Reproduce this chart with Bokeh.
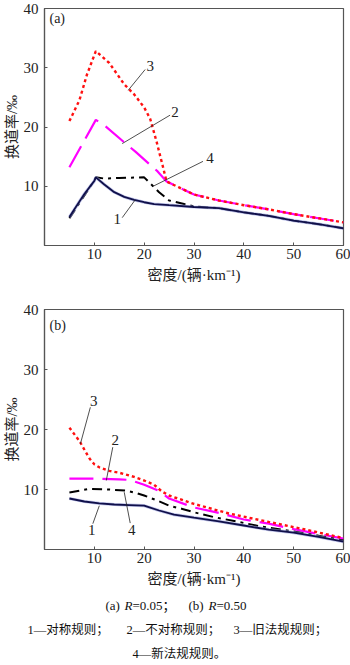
from bokeh.plotting import figure
from bokeh.models import Range1d, FixedTicker, Label
from bokeh.layouts import column
from bokeh.embed import file_html
from bokeh.resources import INLINE
from bokeh.core.properties import value

# ---------------- data ----------------
X_TICKS = [10, 20, 30, 40, 50, 60]
Y_TICKS = [10, 20, 30, 40]
X_LABEL = "密度/(辆·km⁻¹)"
Y_LABEL = "换道率/‰"

# panel (a) R=0.05
a_x1 = [5, 6, 8, 10, 10.3, 12, 14, 16, 18, 20, 22, 25, 30, 35, 40, 45, 50, 55, 60]
a_y1 = [4.8, 6.1, 8.7, 10.9, 11.5, 10.3, 9.0, 8.2, 7.7, 7.3, 7.0, 6.8, 6.5, 6.3, 5.6, 5.0, 4.2, 3.6, 2.9]
a_x2 = [5, 10.3, 12, 16.3, 18.3, 22.7, 24.5, 27, 30, 35, 40, 45, 50, 55, 60]
a_y2 = [13.2, 21.2, 20.3, 17.2, 15.8, 12.5, 10.8, 9.8, 8.6, 7.6, 6.8, 6.1, 5.3, 4.6, 3.9]
a_x3 = [5, 7, 8.5, 10.3, 13, 16, 18, 20, 21.2, 22.5, 24, 24.5, 27, 30, 35, 40, 45, 50, 55, 60]
a_y3 = [21.0, 24.5, 28.8, 32.8, 30.8, 27.2, 25.5, 23.3, 21.4, 17.5, 12.5, 10.8, 9.8, 8.6, 7.6, 6.8, 6.1, 5.3, 4.6, 3.9]
a_x4 = [5, 10, 10.3, 12, 15, 20, 23, 25, 28, 30, 35, 40, 45, 50, 55, 60]
a_y4 = [4.6, 11.0, 11.5, 11.3, 11.4, 11.5, 9.0, 7.6, 7.0, 6.6, 6.3, 5.6, 5.0, 4.2, 3.6, 2.9]

# panel (b) R=0.50
b_x1 = [5, 8, 11, 14, 17, 20, 23, 26, 30, 35, 40, 45, 50, 55, 60]
b_y1 = [8.5, 8.0, 7.7, 7.5, 7.4, 7.3, 6.5, 5.8, 5.3, 4.7, 4.0, 3.3, 2.8, 2.1, 1.3]
b_x2 = [5, 10, 15, 17, 18.5, 20, 22.9, 25, 30, 35, 40, 45, 50, 55, 60]
b_y2 = [11.8, 11.8, 11.7, 11.6, 11.2, 10.8, 9.8, 8.5, 7.0, 6.1, 5.0, 4.3, 3.4, 2.6, 1.8]
b_x3 = [5, 7, 9, 10, 11, 13, 15, 18, 20, 22, 23.5, 25, 30, 37, 45, 52.5, 60]
b_y3 = [20.3, 18.1, 15.2, 14.2, 13.7, 13.1, 12.8, 12.1, 11.5, 10.8, 9.7, 9.0, 7.6, 6.0, 4.6, 3.3, 1.9]
b_x4 = [5, 9, 13, 16.5, 18.5, 20, 22.5, 25, 27.5, 30, 34, 39, 43, 50, 55, 60]
b_y4 = [9.5, 10.1, 10.0, 9.8, 9.4, 9.0, 8.2, 7.3, 6.8, 6.2, 5.4, 4.6, 3.9, 3.0, 2.3, 1.5]

# curve number labels: (text, x, y, leader x0, y0, x1, y1)
a_notes = [("3", 21.2, 30.3, 20.2, 29.7, 16.8, 26.2),
           ("2", 26.2, 22.5, 25.2, 22.0, 15.6, 17.2),
           ("4", 33.2, 14.7, 31.8, 14.2, 21.8, 10.0),
           ("1", 14.6, 4.5, 15.6, 4.7, 18.2, 7.7)]
b_notes = [("3", 9.9, 24.8, 9.2, 23.7, 7.2, 17.6),
           ("2", 14.2, 18.2, 13.7, 17.05, 12.4, 11.5),
           ("1", 9.5, 3.2, 9.7, 4.3, 11.0, 7.3),
           ("4", 17.5, 3.2, 17.2, 4.4, 16.0, 9.55)]

CAP1 = [("(a) ", False, 105), ("R", True, 124), ("=0.05；", False, 132),
        ("(b) ", False, 188), ("R", True, 208), ("=0.50", False, 216)]
CAP2 = [("1—对称规则；", 27), ("2—不对称规则；", 126), ("3—旧法规规则；", 233)]
CAP3 = "4—新法规规则。"

SERIF = "Liberation Serif"
MIX = "'Liberation Serif', 'Noto Sans CJK SC'"
AXC = "#555555"
TXT = "#222222"


def panel(height, top, bottom, tag, tag_y, series, notes):
    p = figure(width=350, height=height, output_backend="svg", toolbar_location=None,
               x_range=Range1d(0, 60), y_range=Range1d(0, 40),
               min_border_left=44, min_border_right=7,
               min_border_top=top, min_border_bottom=bottom)
    p.grid.visible = False
    p.outline_line_color = AXC
    p.outline_line_width = 1.2
    p.background_fill_color = "white"
    p.border_fill_color = "white"
    for ax, ticks in ((p.xaxis[0], X_TICKS), (p.yaxis[0], Y_TICKS)):
        ax.ticker = FixedTicker(ticks=ticks)
        ax.minor_tick_line_color = None
        ax.major_tick_in = 3
        ax.major_tick_out = 0
        ax.major_tick_line_color = AXC
        ax.axis_line_color = AXC
        ax.axis_line_width = 1.2
        ax.major_label_text_font = SERIF
        ax.major_label_text_font_size = "15px"
        ax.major_label_text_color = TXT
        ax.axis_label_text_font = MIX
        ax.axis_label_text_font_size = "15px"
        ax.axis_label_text_font_style = "normal"
        ax.axis_label_text_color = TXT
    p.xaxis.axis_label = X_LABEL
    p.yaxis.axis_label = Y_LABEL
    p.xaxis.major_label_standoff = 3
    p.xaxis.axis_label_standoff = 5
    p.yaxis.major_label_standoff = 6
    p.yaxis.axis_label_standoff = 1

    (x1, y1), (x2, y2), (x3, y3), (x4, y4) = series
    p.line(x2, y2, line_color="#ff00ff", line_width=2.2, line_dash="24 9")
    p.line(x3, y3, line_color="#ff1010", line_width=2.4, line_dash="3 3")
    p.line(x4, y4, line_color="#000000", line_width=2.0, line_dash="10 5 3 5")
    p.line(x1, y1, line_color="#9aa0e0", line_width=3.2, line_alpha=0.6)
    p.line(x1, y1, line_color="#10104a", line_width=1.8)

    for t, tx, ty, lx0, ly0, lx1, ly1 in notes:
        p.segment(x0=[lx0], y0=[ly0], x1=[lx1], y1=[ly1], line_color=TXT, line_width=0.8)
    p.text(x=[n[1] for n in notes], y=[n[2] for n in notes], text=[n[0] for n in notes],
           text_font=value(SERIF), text_font_size="15px", text_align="center",
           text_baseline="middle", text_color=TXT)
    p.text(x=[1.0], y=[tag_y], text=[tag], text_font=value(SERIF), text_font_size="14px",
           text_align="left", text_baseline="middle", text_color=TXT)
    p.add_layout(Label(x=0, y=0, x_offset=-5, y_offset=-8, text="0", text_font=SERIF,
                       text_font_size="15px", text_align="center", text_baseline="middle",
                       text_color=TXT))
    return p


p1 = panel(300, 8, 55, "(a)", 38.3,
           [(a_x1, a_y1), (a_x2, a_y2), (a_x3, a_y3), (a_x4, a_y4)], a_notes)
p2 = panel(290, 9, 41, "(b)", 37.3,
           [(b_x1, b_y1), (b_x2, b_y2), (b_x3, b_y3), (b_x4, b_y4)], b_notes)

cap = figure(width=350, height=75, output_backend="svg", toolbar_location=None,
             x_axis_type=None, y_axis_type=None,
             x_range=Range1d(0, 350), y_range=Range1d(75, 0),
             min_border=0, min_border_left=0, min_border_right=0,
             min_border_top=0, min_border_bottom=0)
cap.frame_align = False
cap.grid.visible = False
cap.outline_line_color = None
for t, it, x in CAP1:
    cap.text(x=[x], y=[15], text=[t], text_font=value(MIX), text_font_size="13px",
             text_font_style="italic" if it else "normal", text_align="left",
             text_baseline="middle", text_color="#111111")
for t, x in CAP2:
    cap.text(x=[x], y=[39], text=[t], text_font=value(MIX), text_font_size="12.5px",
             text_align="left", text_baseline="middle", text_color="#111111")
cap.text(x=[132], y=[63], text=[CAP3], text_font=value(MIX), text_font_size="12.5px",
         text_align="left", text_baseline="middle", text_color="#111111")

layout = column(p1, p2, cap)
open("out.html", "w").write(file_html(layout, INLINE))
